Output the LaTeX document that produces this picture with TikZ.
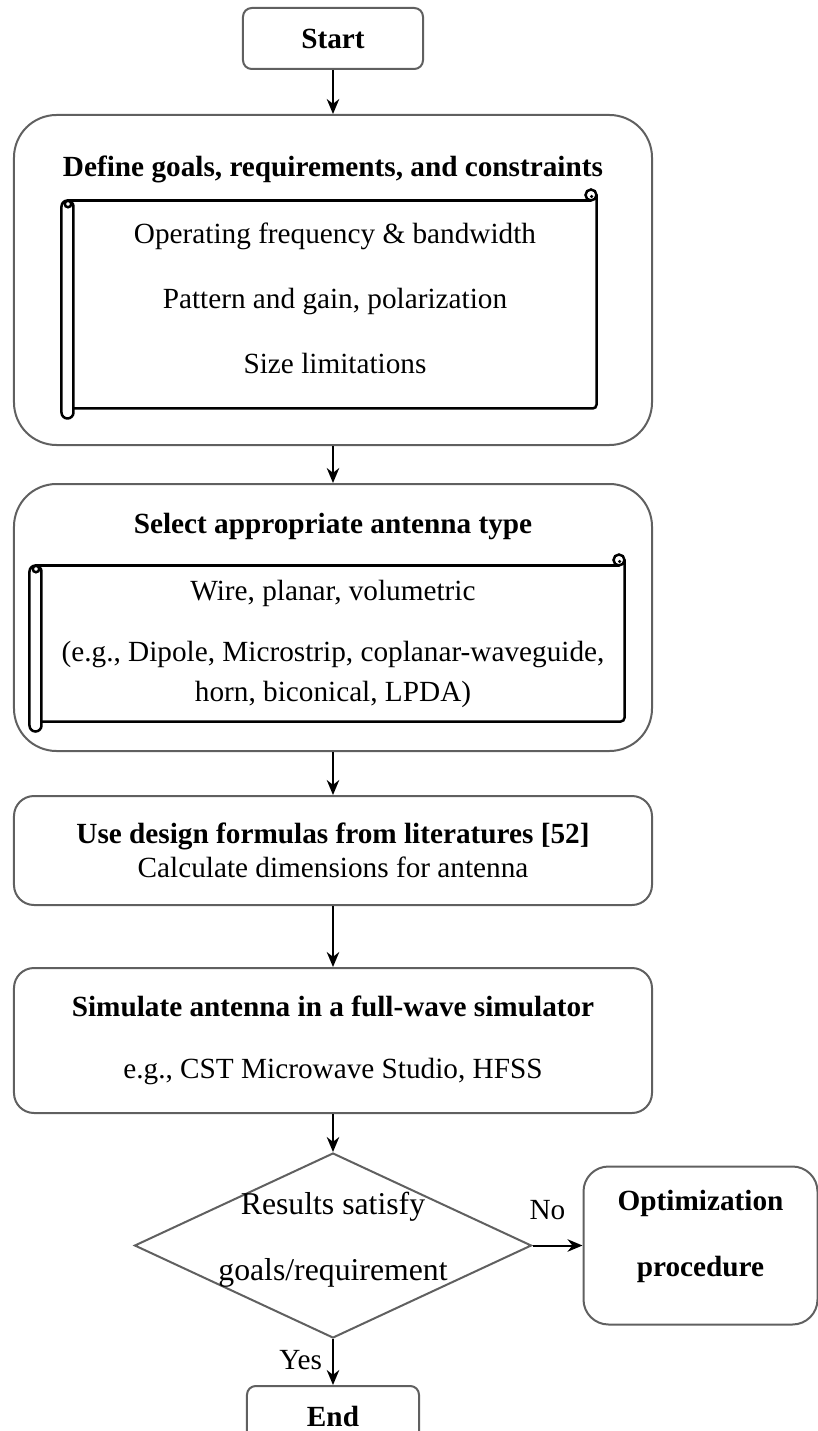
\documentclass[tikz,border=0pt]{standalone}
\usepackage{fontspec}
\setmainfont{Liberation Serif}
\usepackage{tikz}
\usetikzlibrary{arrows.meta,positioning,calc,shapes.geometric}
\definecolor{framegray}{RGB}{96,96,96}
\tikzset{terminal/.style={rectangle, rounded corners=3.5pt, draw=framegray, line width=0.8pt, minimum width=72pt, minimum height=24.4pt, font=\fontsize{11.7}{13.6}\selectfont\bfseries}, outerblock/.style={rectangle, rounded corners=17pt, draw=framegray, line width=0.8pt, minimum width=255.2pt}, block/.style={rectangle, rounded corners=8pt, draw=framegray, line width=0.8pt, minimum width=255.2pt, align=center}, head/.style={inner sep=0pt, font=\fontsize{11.7}{13.6}\selectfont\bfseries}, body/.style={inner sep=0pt, align=center}, scrollbody/.style={rectangle, inner sep=0pt}, scrolline/.style={black, line width=1pt}, decision/.style={diamond, draw=framegray, line width=0.8pt, inner sep=0pt, minimum width=158.8pt, minimum height=74pt}, dectext/.style={inner sep=0pt, align=center, font=\fontsize{12.7}{26.4}\selectfont}, optbox/.style={rectangle, rounded corners=10pt, draw=framegray, line width=0.8pt, minimum width=93.6pt, minimum height=63.2pt, align=center, text depth=9.7pt, font=\fontsize{11.7}{26.4}\selectfont\bfseries}, lbl/.style={inner sep=1pt, font=\fontsize{11.7}{13.6}\selectfont}, arrow/.style={-{Stealth[length=6pt, width=5pt]}, line width=0.8pt, draw=black}}
\newcommand{\scrollframe}[1]{%
  \draw[scrolline, rounded corners=2.4pt] (#1.north west) rectangle ([xshift=4.8pt,yshift=-4pt]#1.south west);
  \draw[scrolline] ([xshift=2.6pt,yshift=-1.4pt]#1.north west) circle (1.3pt);
  \draw[scrolline] ([xshift=2.4pt]#1.north west) -- ([xshift=-2.2pt]#1.north east);
  \draw[scrolline] ([xshift=4.8pt]#1.south west) -- ([xshift=-1.5pt]#1.south east) arc[start angle=-90, end angle=0, radius=1.5pt] -- ([yshift=2.2pt]#1.north east);
  \draw[scrolline] ([xshift=-2.2pt,yshift=2.2pt]#1.north east) circle (2.2pt);
  \fill ([xshift=-2.0pt,yshift=1.6pt]#1.north east) circle (0.7pt);
}

\begin{document}
\begin{tikzpicture}[font=\fontsize{11.7}{13.6}\selectfont]
\path[use as bounding box] (-133.2pt,15.4pt) rectangle (193.6pt,-557pt);
\node[terminal] (start) {Start};
\node[outerblock, minimum height=132pt, below=17.6pt of start] (define) {};
\node[head] (definehead) at ([yshift=-22pt]define.north) {Define goals, requirements, and constraints};
\node[scrollbody, minimum width=213.6pt, minimum height=82.8pt] (scr1) at ([xshift=-1.6pt,yshift=-76.2pt]define.north) {};
\node[body, font=\fontsize{11.7}{26}\selectfont] (req) at ([xshift=2.4pt,yshift=2.6pt]scr1.center) {Operating frequency \& bandwidth\\Pattern and gain, polarization\\Size limitations};
\scrollframe{scr1}
\node[outerblock, minimum height=106.8pt, below=14.8pt of define] (select) {};
\node[head] (selecthead) at ([yshift=-17.6pt]select.north) {Select appropriate antenna type};
\node[scrollbody, minimum width=237.6pt, minimum height=62pt] (scr2) at ([xshift=-2.4pt,yshift=-64.2pt]select.north) {};
\node[body, font=\fontsize{11.7}{16}\selectfont] (types) at ([xshift=2.4pt]scr2.center) {Wire, planar, volumetric\\[8.4pt](e.g., Dipole, Microstrip, coplanar-waveguide,\\horn, biconical, LPDA)};
\scrollframe{scr2}
\node[block, minimum height=43.6pt, below=17.2pt of select] (formula) {\textbf{Use design formulas from literatures [52]}\\Calculate dimensions for antenna};
\node[block, minimum height=58pt, below=24.4pt of formula] (simulate) {\textbf{Simulate antenna in a full-wave simulator}\\[11.4pt]e.g., CST Microwave Studio, HFSS};
\node[decision, below=15.2pt of simulate] (check) {};
\node[dectext] (checktext) at ([yshift=2.5pt]check.center) {Results satisfy\\goals/requirement};
\node[optbox, right=20pt of check] (optim) {Optimization\\procedure};
\node[terminal, minimum width=68.8pt, below=18.4pt of check] (end) {End};
\draw[arrow] (start) -- (define);
\draw[arrow] (define) -- (select);
\draw[arrow] (select) -- (formula);
\draw[arrow] (formula) -- (simulate);
\draw[arrow] (simulate) -- (check);
\draw[arrow] (check.east) -- node[lbl, above=9pt, pos=0.3] {No} (optim);
\draw[arrow] (check.south) -- node[lbl, left=3pt, pos=0.45] {Yes} (end);
\end{tikzpicture}
\end{document}
